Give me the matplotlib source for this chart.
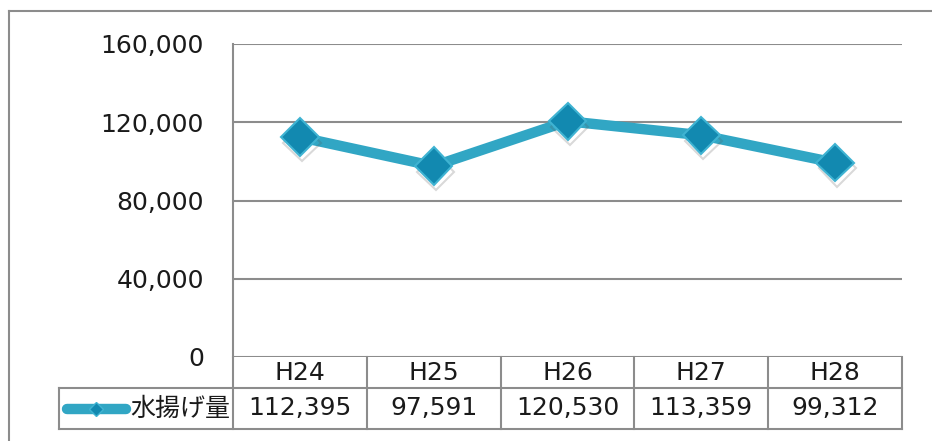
import matplotlib
matplotlib.use('Agg')
import matplotlib.pyplot as plt
import matplotlib.patheffects as pe
from matplotlib.lines import Line2D
from matplotlib.transforms import blended_transform_factory

plt.rcParams['font.family'] = ['DejaVu Sans', 'Noto Sans CJK JP']

# data
years = ['H24', 'H25', 'H26', 'H27', 'H28']
catch = [112395, 97591, 120530, 113359, 99312]
series_name = '水揚げ量'
y_ticks = [0, 40000, 80000, 120000, 160000]

LINE_COLOR = '#31a6c4'
MARK_COLOR = '#1289b0'
MARK_EDGE = '#3fb3d2'
GRID = '#8c8c8c'
TXT = '#1a1a1a'
FS = 18

W, H = 932, 441
fig = plt.figure(figsize=(W / 100, H / 100), dpi=100)

# outer frame (only top and left visible)
fig.add_artist(Line2D([9 / W, 9 / W], [0, 1 - 11 / H], transform=fig.transFigure, color=GRID, lw=1.5))
fig.add_artist(Line2D([9 / W, 1], [1 - 11 / H, 1 - 11 / H], transform=fig.transFigure, color=GRID, lw=1.5))

left, right, top, bottom = 233, 902, 44, 357
ax = fig.add_axes([left / W, 1 - bottom / H, (right - left) / W, (bottom - top) / H])

x = list(range(len(years)))
ax.plot(x, catch, color=LINE_COLOR, lw=7.5, solid_capstyle='round', zorder=3)
ax.plot(x, catch, ls='none', marker='D', ms=19, mfc=MARK_COLOR, mec=MARK_EDGE, mew=1.5, zorder=4,
        path_effects=[pe.SimpleLineShadow(offset=(1.5, -4), shadow_color='#555555', alpha=0.22), pe.Normal()])

ax.set_xlim(-0.5, len(years) - 0.5)
ax.set_ylim(0, 160000)
ax.set_yticks(y_ticks)
ax.set_yticklabels([f'{v:,}' for v in y_ticks], fontsize=FS, color=TXT)
ax.tick_params(axis='y', length=0, pad=21)
ax.set_xticks([])
ax.grid(axis='y', color=GRID, lw=1.5)
for s in ['top', 'right', 'bottom']:
    ax.spines[s].set_visible(False)
ax.spines['left'].set_color(GRID)
ax.spines['left'].set_linewidth(1.5)

# data table below the plot
tr = blended_transform_factory(ax.transData, ax.transAxes)
ph = bottom - top
r0, r1, r2 = 0, -31 / ph, -72 / ph
leg_left = -0.5 - 174 / ((right - left) / len(years))
n = len(years)
kw = dict(transform=tr, color=GRID, lw=1.5, clip_on=False)
ax.add_line(Line2D([leg_left, n - 0.5], [r1, r1], **kw))
ax.add_line(Line2D([leg_left, n - 0.5], [r2, r2], **kw))
ax.add_line(Line2D([leg_left, leg_left], [r1, r2], **kw))
ax.add_line(Line2D([-0.5, -0.5], [r0, r2], **kw))
for i in range(n):
    ax.add_line(Line2D([i + 0.5, i + 0.5], [r0, r2], **kw))
    ax.text(i, (r0 + r1) / 2, years[i], transform=tr, ha='center', va='center', fontsize=FS, color=TXT)
    ax.text(i, (r1 + r2) / 2, f'{catch[i]:,}', transform=tr, ha='center', va='center', fontsize=FS, color=TXT)

# legend key inside the row label cell
ym = (r1 + r2) / 2
ax.add_line(Line2D([leg_left + 0.06, leg_left + 0.5], [ym, ym], transform=tr, color=LINE_COLOR, lw=7.5,
                   solid_capstyle='round', clip_on=False))
ax.add_line(Line2D([leg_left + 0.28], [ym], transform=tr, ls='none', marker='D', ms=7,
                   mfc=MARK_COLOR, mec=MARK_EDGE, clip_on=False))
ax.text(-0.52, ym, series_name, transform=tr, ha='right', va='center', fontsize=FS, color=TXT)

plt.savefig('out.png', dpi=100)
